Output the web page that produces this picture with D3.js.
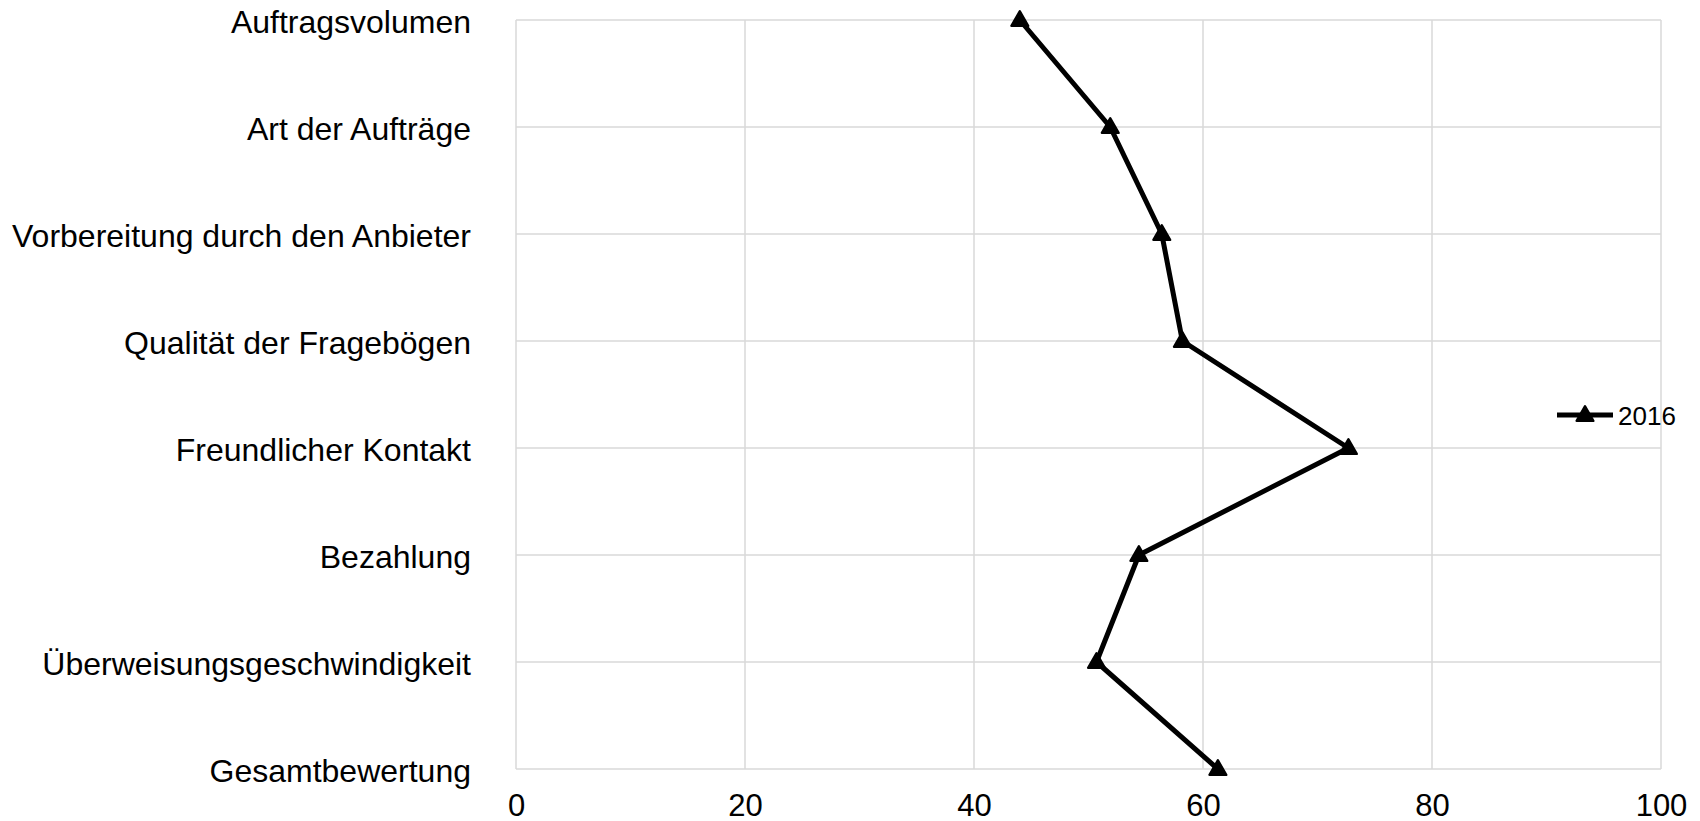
<!DOCTYPE html>
<html>
<head>
<meta charset="utf-8">
<script src="https://cdn.jsdelivr.net/npm/d3@7"></script>
<style>
  html, body { margin: 0; padding: 0; background: #fff; }
  svg { display: block; }
  text { font-family: "Liberation Sans", Arial, sans-serif; fill: #000; }
</style>
</head>
<body>
<svg id="chart" width="1700" height="821"></svg>
<script>
const categories = [
  "Auftragsvolumen",
  "Art der Aufträge",
  "Vorbereitung durch den Anbieter",
  "Qualität der Fragebögen",
  "Freundlicher Kontakt",
  "Bezahlung",
  "Überweisungsgeschwindigkeit",
  "Gesamtbewertung"
];
const series2016 = [44.0, 51.9, 56.4, 58.2, 72.7, 54.4, 50.7, 61.3];
const seriesName = "2016";
const xTicks = [0, 20, 40, 60, 80, 100];

(function () {
const svg = d3.select("#chart");
const pLeft = 516, pRight = 1661, pTop = 20, pBottom = 769;

const x = d3.scaleLinear().domain([0, 100]).range([pLeft, pRight]);
const y = d3.scalePoint().domain(categories).range([pTop, pBottom]).padding(0);

const gridColor = "#d9d9d9";

// vertical gridlines
svg.append("g").selectAll("line").data(xTicks).join("line")
  .attr("x1", d => x(d)).attr("x2", d => x(d))
  .attr("y1", pTop).attr("y2", pBottom)
  .attr("stroke", gridColor).attr("stroke-width", 1.5);

// horizontal gridlines
svg.append("g").selectAll("line").data(categories).join("line")
  .attr("x1", pLeft).attr("x2", pRight)
  .attr("y1", d => y(d)).attr("y2", d => y(d))
  .attr("stroke", gridColor).attr("stroke-width", 1.5);

// x axis tick labels
const xAxis = d3.axisBottom(x).tickValues(xTicks).tickSize(0).tickPadding(0);
const gx = svg.append("g").attr("transform", `translate(0,${pBottom})`).call(xAxis);
gx.select(".domain").remove();
gx.selectAll("text")
  .attr("dy", null).attr("y", 47)
  .style("font-size", "31px")
  .style("font-family", "'Liberation Sans', Arial, sans-serif")
  .attr("fill", "#000");

// y axis category labels
const yAxis = d3.axisLeft(y).tickSize(0).tickPadding(0);
const gy = svg.append("g").attr("transform", `translate(${pLeft - 45},0)`).call(yAxis);
gy.select(".domain").remove();
gy.selectAll("text")
  .attr("dy", "0.39em").attr("x", 0)
  .style("font-size", "32px")
  .style("font-family", "'Liberation Sans', Arial, sans-serif")
  .attr("fill", "#000");

// line
const pts = categories.map((c, i) => ({ c, v: series2016[i] }));
const line = d3.line().x(d => x(d.v)).y(d => y(d.c));
svg.append("path").datum(pts)
  .attr("d", line)
  .attr("fill", "none").attr("stroke", "#000")
  .attr("stroke-width", 5).attr("stroke-linejoin", "round");

// markers
const tri = d3.symbol().type(d3.symbolTriangle).size(120);
svg.append("g").selectAll("path").data(pts).join("path")
  .attr("d", tri)
  .attr("transform", d => `translate(${x(d.v)},${y(d.c) + 1})`)
  .attr("fill", "#000").attr("stroke", "#000")
  .attr("stroke-width", 2.5).attr("stroke-linejoin", "round");

// legend
const lg = svg.append("g").attr("transform", "translate(1557,415)");
lg.append("line").attr("x1", 0).attr("x2", 56).attr("y1", 0).attr("y2", 0)
  .attr("stroke", "#000").attr("stroke-width", 5);
lg.append("path").attr("d", tri).attr("transform", "translate(28,1)")
  .attr("fill", "#000").attr("stroke", "#000")
  .attr("stroke-width", 2.5).attr("stroke-linejoin", "round");
lg.append("text").attr("x", 61).attr("y", 10)
  .style("font-size", "26px").text(seriesName);
})();
</script>
</body>
</html>
